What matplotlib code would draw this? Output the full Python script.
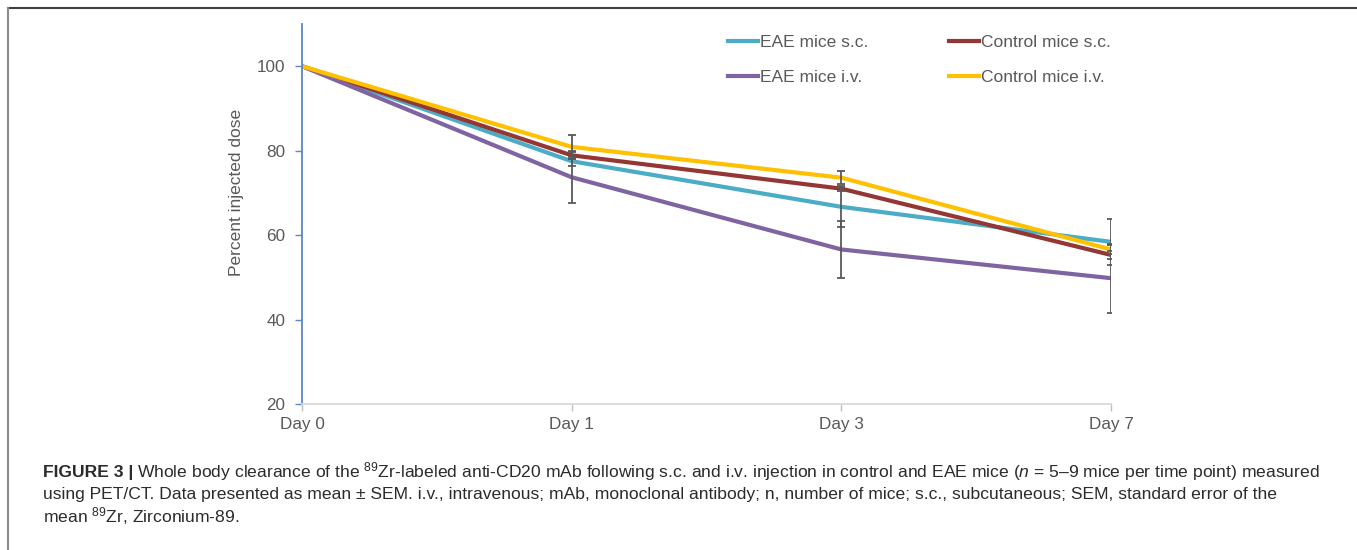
import matplotlib
matplotlib.use("Agg")
import matplotlib.pyplot as plt
from matplotlib.lines import Line2D

# --- DATA ---
days = ["Day 0", "Day 1", "Day 3", "Day 7"]
eae_sc = [100, 77.5, 66.7, 58.4]
ctrl_sc = [100, 78.9, 71.0, 55.3]
eae_iv = [100, 73.7, 56.6, 49.8]
ctrl_iv = [100, 80.9, 73.6, 56.6]

eae_sc_err = [0, 1.1, 4.7, 5.4]
ctrl_sc_err = [0, 0.8, 0.6, 1.0]
eae_iv_err = [0, 6.2, 6.8, 8.2]
ctrl_iv_err = [0, 2.8, 1.6, 1.0]

series = [
    ("EAE mice s.c.", eae_sc, eae_sc_err, "#4BACC6"),
    ("Control mice s.c.", ctrl_sc, ctrl_sc_err, "#943634"),
    ("EAE mice i.v.", eae_iv, eae_iv_err, "#8064A2"),
    ("Control mice i.v.", ctrl_iv, ctrl_iv_err, "#FFC000"),
]

plt.rcParams["font.family"] = ["Liberation Sans", "DejaVu Sans"]
plt.rcParams["mathtext.fontset"] = "custom"
plt.rcParams["mathtext.rm"] = "Liberation Sans"
plt.rcParams["mathtext.it"] = "Liberation Sans:italic"

W, H = 1357, 550
fig = plt.figure(figsize=(W / 100, H / 100), dpi=100)
ax = fig.add_axes([302 / W, 1 - 404 / H, 809 / W, 380 / H])

x = list(range(len(days)))
for label, vals, err, col in series:
    ax.plot(x, vals, color=col, lw=3, label=label, solid_capstyle="butt", zorder=2)
for label, vals, err, col in series:
    ax.errorbar(x[1:], vals[1:], yerr=err[1:], fmt="none", ecolor="#595959",
                elinewidth=1.3, capsize=2.6, capthick=1.3, zorder=3)

ax.set_xlim(0, 3)
ax.set_ylim(20, 110)
ax.set_yticks([20, 40, 60, 80, 100])
ax.set_xticks(x)
ax.set_xticklabels(days)

grey = "#595959"
ax.tick_params(axis="y", colors="#5B87C8", labelcolor=grey, labelsize=12.3,
               length=5, width=1, pad=7)
ax.tick_params(axis="x", colors="#BFBFBF", labelcolor=grey, labelsize=12.3,
               length=5, width=1, pad=4)
for s in ["top", "right"]:
    ax.spines[s].set_visible(False)
ax.spines["left"].set_color("#5B87C8")
ax.spines["left"].set_linewidth(1.3)
ax.spines["bottom"].set_color("#D9D9D9")
ax.spines["bottom"].set_linewidth(1.3)
ax.set_ylabel("Percent injected dose", color=grey, fontsize=12.5)
ax.yaxis.set_label_coords(-0.072, 0.557)

handles = [Line2D([], [], color=c, lw=3) for _, _, _, c in series]
labels = [s[0] for s in series]
# order so that the two columns read s.c. / i.v.
order = [0, 2, 1, 3]
leg = ax.legend([handles[i] for i in order], [labels[i] for i in order],
                ncol=2, loc="upper left", bbox_to_anchor=(0.5266, 0.972),
                frameon=False, fontsize=12.5, handlelength=1.72,
                handletextpad=0.15, columnspacing=4.6, labelspacing=1.15,
                borderaxespad=0, borderpad=0)
for t in leg.get_texts():
    t.set_color(grey)

# --- frame lines around the figure panel ---
fig.add_artist(Line2D([8 / W, 1.0], [1 - 8 / H, 1 - 8 / H],
                      color="#404040", lw=1.5, transform=fig.transFigure))
fig.add_artist(Line2D([8 / W, 8 / W], [0, 1 - 8 / H],
                      color="#8C8C8C", lw=1.5, transform=fig.transFigure))

# --- caption ---
cap_color = "#2b2b2b"
cap_size = 12.6
fig.canvas.draw()
r = fig.canvas.get_renderer()
x0 = 43 / W
y1 = 1 - 472 / H
t = fig.text(x0, y1, "FIGURE 3 |", fontsize=cap_size, weight="bold",
             color=cap_color, va="center")
bb = t.get_window_extent(r)
x1 = (bb.x1 + 4) / W
fig.text(x1, y1,
         r"Whole body clearance of the $^{89}$Zr-labeled anti-CD20 mAb following s.c. and i.v. "
         r"injection in control and EAE mice ($\it{n}$ = 5–9 mice per time point) measured",
         fontsize=cap_size, color=cap_color, va="center")
fig.text(x0, 1 - 494 / H,
         "using PET/CT. Data presented as mean ± SEM. i.v., intravenous; mAb, monoclonal antibody; "
         "n, number of mice; s.c., subcutaneous; SEM, standard error of the",
         fontsize=cap_size, color=cap_color, va="center")
fig.text(x0, 1 - 516 / H, r"mean $^{89}$Zr, Zirconium-89.",
         fontsize=cap_size, color=cap_color, va="center")

fig.savefig("out.png", dpi=100)
